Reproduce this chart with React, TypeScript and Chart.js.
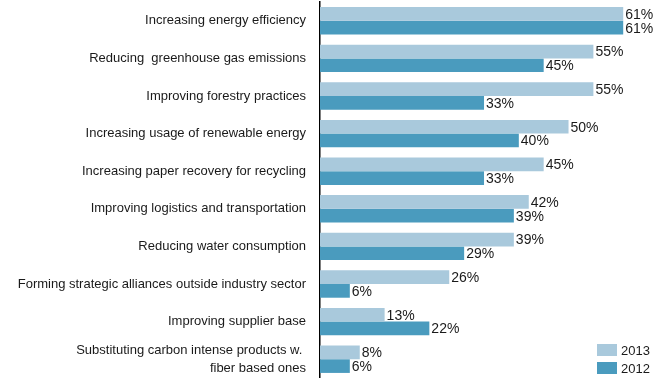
import React, { useEffect, useRef } from "react";
import { Chart, registerables } from "chart.js";

Chart.register(...registerables);

const categories: (string | string[])[] = [
  "Increasing energy efficiency",
  "Reducing  greenhouse gas emissions",
  "Improving forestry practices",
  "Increasing usage of renewable energy",
  "Increasing paper recovery for recycling",
  "Improving logistics and transportation",
  "Reducing water consumption",
  "Forming strategic alliances outside industry sector",
  "Improving supplier base",
  ["Substituting carbon intense products w. ", "fiber based ones"],
];

const values2013 = [61, 55, 55, 50, 45, 42, 39, 26, 13, 8];
const values2012 = [61, 45, 33, 40, 33, 39, 29, 6, 22, 6];

const seriesNames = ["2013", "2012"];
const seriesColors = ["#a9c9dc", "#4a9bbe"];

const FONT = "'Liberation Sans Narrow', 'Arial Narrow', 'Liberation Sans', Arial, sans-serif";

// Percent figures printed just past the end of each bar
const valueLabels = {
  id: "valueLabels",
  afterDatasetsDraw(chart: any) {
    const ctx = chart.ctx;
    ctx.save();
    ctx.font = `14px ${FONT}`;
    ctx.fillStyle = "#1a1a1a";
    ctx.textAlign = "left";
    ctx.textBaseline = "middle";
    chart.data.datasets.forEach((ds: any, di: number) => {
      const meta = chart.getDatasetMeta(di);
      meta.data.forEach((bar: any, i: number) => {
        ctx.fillText(`${ds.data[i]}%`, bar.x + 2, bar.y + 1);
      });
    });
    ctx.restore();
  },
};

// Small swatch legend in the lower right corner
const cornerLegend = {
  id: "cornerLegend",
  afterDraw(chart: any) {
    const ctx = chart.ctx;
    const { width, height } = chart;
    ctx.save();
    ctx.font = `13px ${FONT}`;
    ctx.textAlign = "left";
    ctx.textBaseline = "middle";
    chart.data.datasets.forEach((ds: any, di: number) => {
      const top = height - 34 + di * 18;
      const left = width - 65;
      ctx.fillStyle = ds.backgroundColor;
      ctx.fillRect(left, top, 20, 12);
      ctx.fillStyle = "#1a1a1a";
      ctx.fillText(ds.label, left + 24, top + 7);
    });
    ctx.restore();
  },
};

export default function App() {
  const canvasRef = useRef<HTMLCanvasElement>(null);

  useEffect(() => {
    if (!canvasRef.current) return;
    const chart = new Chart(canvasRef.current, {
      type: "bar",
      data: {
        labels: categories,
        datasets: [
          { label: seriesNames[0], data: values2013, backgroundColor: seriesColors[0] },
          { label: seriesNames[1], data: values2012, backgroundColor: seriesColors[1] },
        ],
      },
      options: {
        indexAxis: "y",
        responsive: false,
        animation: false,
        devicePixelRatio: 1,
        layout: { padding: { top: 2, right: 4, bottom: 0, left: 0 } },
        datasets: {
          bar: { categoryPercentage: 0.73, barPercentage: 1.0, borderWidth: 0 },
        },
        plugins: {
          legend: { display: false },
          tooltip: { enabled: false },
          title: { display: false },
        },
        scales: {
          x: { display: false, min: 0, max: 68 },
          y: {
            grid: { display: false, drawTicks: false },
            border: { display: true, color: "#000", width: 1.5 },
            ticks: {
              color: "#1a1a1a",
              padding: 14,
              autoSkip: false,
              font: { family: FONT, size: 13, lineHeight: 1.4 },
            },
            afterFit(scale: any) {
              scale.width = 320;
              scale.paddingTop = 0;
              scale.paddingBottom = 0;
            },
          },
        },
      },
      plugins: [valueLabels, cornerLegend],
    });
    return () => chart.destroy();
  }, []);

  return (
    <div style={{ position: "absolute", left: 0, top: 0, width: 662, height: 378, background: "#fff" }}>
      <canvas ref={canvasRef} width={662} height={378} />
    </div>
  );
}
